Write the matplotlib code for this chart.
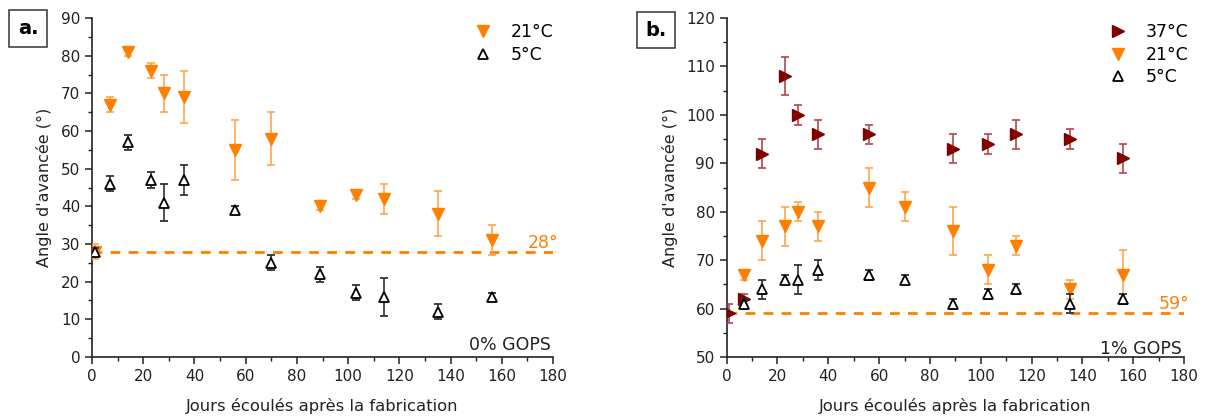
import numpy as np
import matplotlib.pyplot as plt
from matplotlib.lines import Line2D
from matplotlib.ticker import MultipleLocator

plt.rcParams['font.family'] = ['DejaVu Sans']

# --- panel a : 0% GOPS ---
a_jours = [1, 7, 14, 23, 28, 36, 56, 70, 89, 103, 114, 135, 156]
a_21 = [28, 67, 81, 76, 70, 69, 55, 58, 40, 43, 42, 38, 31]
a_21_err = [2, 2, 1, 2, 5, 7, 8, 7, 1, 1, 4, 6, 4]
a_5 = [28, 46, 57, 47, 41, 47, 39, 25, 22, 17, 16, 12, 16]
a_5_err = [1, 2, 2, 2, 5, 4, 1, 2, 2, 2, 5, 2, 1]
a_ref = 28

# --- panel b : 1% GOPS ---
b_jours_37 = [1, 7, 14, 23, 28, 36, 56, 89, 103, 114, 135, 156]
b_37 = [59, 62, 92, 108, 100, 96, 96, 93, 94, 96, 95, 91]
b_37_err = [2, 1, 3, 4, 2, 3, 2, 3, 2, 3, 2, 3]
b_jours = [7, 14, 23, 28, 36, 56, 70, 89, 103, 114, 135, 156]
b_21 = [67, 74, 77, 80, 77, 85, 81, 76, 68, 73, 64, 67]
b_21_err = [1, 4, 4, 2, 3, 4, 3, 5, 3, 2, 2, 5]
b_5 = [61, 64, 66, 66, 68, 67, 66, 61, 63, 64, 61, 62]
b_5_err = [1, 2, 1, 3, 2, 1, 1, 1, 1, 1, 2, 1]
b_ref = 59

ORANGE = '#ff8000'
ORANGE_ERR = '#ffa64d'
ROUGE = '#800000'
ROUGE_ERR = '#b2474f'
NOIR = '#000000'
NOIR_ERR = '#333333'


def style_axes(ax, ymin, ymax):
    ax.set_xlim(0, 180)
    ax.set_ylim(ymin, ymax)
    ax.xaxis.set_major_locator(MultipleLocator(20))
    ax.xaxis.set_minor_locator(MultipleLocator(10))
    ax.yaxis.set_major_locator(MultipleLocator(10))
    ax.yaxis.set_minor_locator(MultipleLocator(5))
    for s in ['top', 'right']:
        ax.spines[s].set_visible(False)
    for s in ['left', 'bottom']:
        ax.spines[s].set_linewidth(1.2)
        ax.spines[s].set_color('#222222')
    ax.tick_params(which='major', direction='out', length=5, width=1.1,
                   labelsize=11, color='#222222', labelcolor='#222222')
    ax.tick_params(which='minor', direction='out', length=3, width=1.0, color='#222222')
    ax.set_xlabel('Jours écoulés après la fabrication', fontsize=11.8, color='#222222',
                  labelpad=10)
    ax.set_ylabel("Angle d'avancée (°)", fontsize=11.5, color='#222222', labelpad=6)


def serie_21(ax, x, y, e):
    ax.errorbar(x, y, yerr=e, fmt='v', color=ORANGE, ecolor=ORANGE_ERR, ms=8,
                elinewidth=1.2, capsize=3, capthick=1.2, zorder=3)


def serie_5(ax, x, y, e):
    ax.errorbar(x, y, yerr=e, fmt='^', mfc='white', mec=NOIR, mew=1.3, ms=6.5,
                ecolor=NOIR_ERR, elinewidth=1.2, capsize=3, capthick=1.2, zorder=4)


def serie_37(ax, x, y, e):
    ax.errorbar(x, y, yerr=e, fmt='>', color=ROUGE, ecolor=ROUGE_ERR, ms=8,
                elinewidth=1.2, capsize=3, capthick=1.2, zorder=3)


h37 = Line2D([], [], ls='none', marker='>', color=ROUGE, ms=8)
h21 = Line2D([], [], ls='none', marker='v', color=ORANGE, ms=8)
h5 = Line2D([], [], ls='none', marker='^', mfc='white', mec=NOIR, mew=1.3, ms=6.5)

fig = plt.figure(figsize=(12.07, 4.19), dpi=100)
ax1 = fig.add_axes([0.0762, 0.148, 0.382, 0.809])
ax2 = fig.add_axes([0.602, 0.148, 0.379, 0.809])

# panel a
style_axes(ax1, 0, 90)
ax1.axhline(a_ref, color=ORANGE, ls=(0, (3.5, 3)), lw=2, zorder=2)
serie_5(ax1, a_jours, a_5, a_5_err)
serie_21(ax1, a_jours, a_21, a_21_err)
ax1.text(1.012, 0.336, '%d°' % a_ref, transform=ax1.transAxes, ha='right', va='center',
         fontsize=12.5, color=ORANGE)
ax1.text(0.995, 0.035, '0% GOPS', transform=ax1.transAxes, ha='right', va='center',
         fontsize=12.5, color='#222222')
ax1.legend([h21, h5], ['21°C', '5°C'], loc='upper right', bbox_to_anchor=(1.034, 1.03),
           frameon=False, fontsize=12.5, handletextpad=1.0, labelspacing=0.25,
           handlelength=1.2)

# panel b
style_axes(ax2, 50, 120)
ax2.axhline(b_ref, color=ORANGE, ls=(0, (3.5, 3)), lw=2, zorder=2)
serie_5(ax2, b_jours, b_5, b_5_err)
serie_21(ax2, b_jours, b_21, b_21_err)
serie_37(ax2, b_jours_37, b_37, b_37_err)
ax2.text(1.012, 0.156, '%d°' % b_ref, transform=ax2.transAxes, ha='right', va='center',
         fontsize=12.5, color=ORANGE)
ax2.text(0.995, 0.025, '1% GOPS', transform=ax2.transAxes, ha='right', va='center',
         fontsize=12.5, color='#222222')
ax2.legend([h37, h21, h5], ['37°C', '21°C', '5°C'], loc='upper right',
           bbox_to_anchor=(1.043, 1.03), frameon=False, fontsize=12.5,
           handletextpad=1.0, labelspacing=0.25, handlelength=1.2)

# panel labels
for xt, yt, lab in [(0.0232, 0.932, 'a.'), (0.5435, 0.928, 'b.')]:
    fig.text(xt, yt, lab, ha='center', va='center', fontsize=14, fontweight='bold',
             bbox=dict(boxstyle='square,pad=0.45', fc='white', ec='#333333', lw=1.1))

fig.savefig('out.png', dpi=100)
